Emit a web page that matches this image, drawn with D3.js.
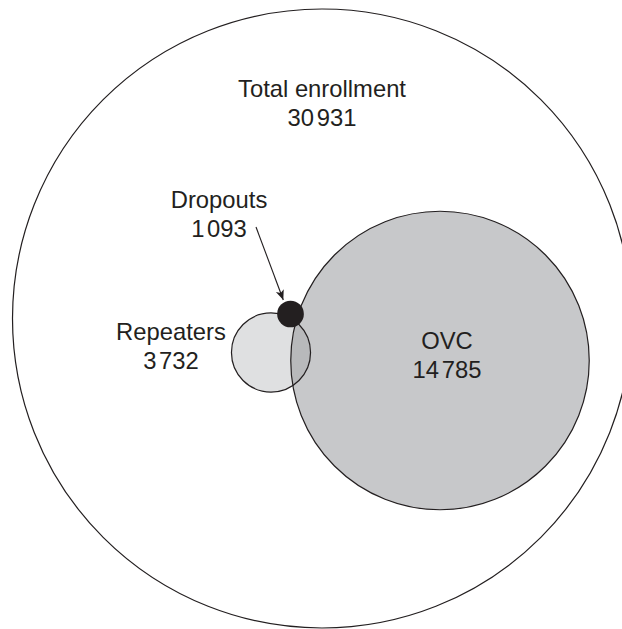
<!DOCTYPE html>
<html>
<head>
<meta charset="utf-8">
<script src="https://cdn.jsdelivr.net/npm/d3@7"></script>
<style>
  body { margin: 0; background: #fff; }
  svg { display: block; }
  .label { font-family: "Liberation Sans", Arial, sans-serif; font-size: 23.8px; fill: #231f20; text-anchor: middle; }
</style>
</head>
<body>
<svg id="chart" width="622" height="629"></svg>
<script>
// DATA
const groups = ["Total enrollment", "OVC", "Repeaters", "Dropouts"];
const counts = [30931, 14785, 3732, 1093];

// SETUP
const width = 622, height = 629;
const ink = "#231f20";
const fills = { "Total enrollment": "none", "OVC": "#c7c8ca", "Repeaters": "#dfe0e1", "Dropouts": ink };
const overlapFill = "#b8b9bb";

// circle centres and label anchors (layout only)
const layout = {
  "Total enrollment": { cx: 322, cy: 318.5, lx: 322, ly: 97 },
  "OVC":              { cx: 440, cy: 360.5, lx: 447, ly: 349 },
  "Repeaters":        { cx: 271, cy: 352.5, lx: 171, ly: 340 },
  "Dropouts":         { cx: 290.5, cy: 314, lx: 219, ly: 208 }
};

// thousands and units parts, shown with a narrow gap
const thousands = v => String(Math.floor(v / 1000));
const units = v => d3.format("03d")(v % 1000);

// radius scale (linear in count)
const r = d3.scaleLinear()
    .domain([0, d3.max(counts)])
    .range([2.5, 309.5]);

const data = groups.map((g, i) => ({ name: g, value: counts[i], ...layout[g], r: r(counts[i]) }));
const byName = Object.fromEntries(data.map(d => [d.name, d]));

const svg = d3.select("#chart");

// arrow marker
svg.append("defs").append("marker")
    .attr("id", "arrow")
    .attr("viewBox", "0 0 10 10")
    .attr("refX", 10)
    .attr("refY", 5)
    .attr("markerWidth", 10)
    .attr("markerHeight", 10)
    .attr("markerUnits", "userSpaceOnUse")
    .attr("orient", "auto")
    .append("path")
    .attr("d", "M0,0.8 L10,5 L0,9.2 L2.5,5 Z")
    .attr("fill", ink);

// clip to OVC for the overlap
const ovc = byName["OVC"], rep = byName["Repeaters"];
svg.select("defs").append("clipPath")
    .attr("id", "ovcClip")
    .append("circle")
    .attr("cx", ovc.cx).attr("cy", ovc.cy).attr("r", ovc.r);

// 1: outer circle
const total = byName["Total enrollment"];
svg.append("circle")
    .attr("cx", total.cx).attr("cy", total.cy).attr("r", total.r)
    .attr("fill", "none").attr("stroke", ink).attr("stroke-width", 1.2);

// 2: fills of OVC and repeaters, then overlap
svg.selectAll("circle.fill")
    .data([ovc, rep])
    .join("circle")
    .attr("class", "fill")
    .attr("cx", d => d.cx).attr("cy", d => d.cy).attr("r", d => d.r)
    .attr("fill", d => fills[d.name]);

svg.append("circle")
    .attr("clip-path", "url(#ovcClip)")
    .attr("cx", rep.cx).attr("cy", rep.cy).attr("r", rep.r)
    .attr("fill", overlapFill);

// 3: outlines
svg.selectAll("circle.outline")
    .data([ovc, rep])
    .join("circle")
    .attr("class", "outline")
    .attr("cx", d => d.cx).attr("cy", d => d.cy).attr("r", d => d.r)
    .attr("fill", "none").attr("stroke", ink).attr("stroke-width", 1.2);

// 4: dropouts dot
const drop = byName["Dropouts"];
svg.append("circle")
    .attr("cx", drop.cx).attr("cy", drop.cy).attr("r", drop.r)
    .attr("fill", fills["Dropouts"]);

// 5: arrow from label to dot
svg.append("line")
    .attr("x1", 256).attr("y1", 227)
    .attr("x2", 283.3).attr("y2", 300)
    .attr("stroke", ink).attr("stroke-width", 1.1)
    .attr("marker-end", "url(#arrow)");

// 6: labels
const labels = svg.selectAll("text.label")
    .data(data)
    .join("text")
    .attr("class", "label")
    .attr("x", d => d.lx)
    .attr("y", d => d.ly);

labels.append("tspan")
    .attr("x", d => d.lx)
    .text(d => d.name);

labels.append("tspan")
    .attr("x", d => d.lx)
    .attr("dy", 28.5)
    .text(d => thousands(d.value));

labels.append("tspan")
    .attr("dx", 2.6)
    .text(d => units(d.value));
</script>
</body>
</html>
